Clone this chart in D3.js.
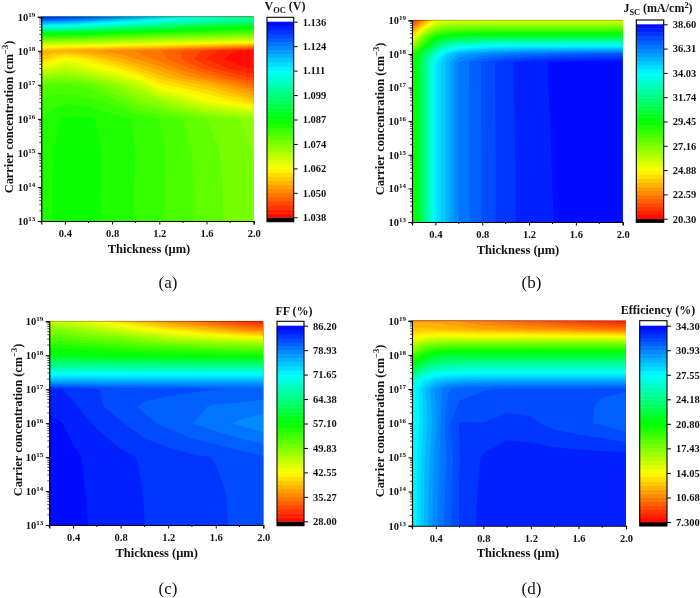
<!DOCTYPE html>
<html><head><meta charset="utf-8">
<script src="https://cdn.jsdelivr.net/npm/d3@7"></script>
<style>
html,body{margin:0;padding:0;background:#fff}
svg{display:block;filter:blur(0.35px)}
text{font-family:"Liberation Serif",serif;font-weight:bold;fill:#111}
</style></head><body>
<svg id="c" width="700" height="598"></svg>
<script>
const thicknessUm=[0.2,0.3,0.4,0.5,0.6,0.8,1.0,1.2,1.4,1.6,1.8,2.0];
const carrierExp=[13,14,15,16,16.5,17,17.25,17.5,17.75,18,18.25,18.5,18.75,19];
const xTickLabels=["0.4","0.8","1.2","1.6","2.0"];
const yTickExps=[13,14,15,16,17,18,19];

const vocTicks=["1.038","1.050","1.062","1.074","1.087","1.099","1.111","1.124","1.136"];
const jscTicks=["20.30","22.59","24.88","27.16","29.45","31.74","34.03","36.31","38.60"];
const ffTicks=["28.00","35.27","42.55","49.83","57.10","64.38","71.65","78.93","86.20"];
const effTicks=["7.300","10.68","14.05","17.43","20.80","24.18","27.55","30.93","34.30"];

const vocRows=[
[1.0835,1.0851,1.0860,1.0862,1.0858,1.0842,1.0828,1.0812,1.0796,1.0780,1.0763,1.0750],
[1.0835,1.0851,1.0860,1.0862,1.0858,1.0843,1.0828,1.0813,1.0796,1.0779,1.0763,1.0750],
[1.0833,1.0850,1.0859,1.0862,1.0858,1.0843,1.0829,1.0814,1.0795,1.0777,1.0761,1.0747],
[1.0828,1.0845,1.0852,1.0855,1.0853,1.0840,1.0827,1.0808,1.0788,1.0768,1.0755,1.0735],
[1.0810,1.0820,1.0825,1.0823,1.0818,1.0800,1.0760,1.0730,1.0690,1.0645,1.0615,1.0585],
[1.0785,1.0790,1.0790,1.0785,1.0780,1.0740,1.0695,1.0615,1.0585,1.0560,1.0520,1.0480],
[1.0720,1.0730,1.0735,1.0725,1.0710,1.0675,1.0625,1.0570,1.0530,1.0495,1.0460,1.0430],
[1.0645,1.0670,1.0685,1.0670,1.0655,1.0615,1.0570,1.0530,1.0490,1.0450,1.0415,1.0395],
[1.0570,1.0605,1.0635,1.0620,1.0600,1.0560,1.0525,1.0495,1.0460,1.0420,1.0395,1.0382],
[1.0555,1.0550,1.0545,1.0540,1.0530,1.0515,1.0500,1.0485,1.0460,1.0435,1.0405,1.0390],
[1.0710,1.0712,1.0710,1.0705,1.0700,1.0690,1.0680,1.0670,1.0660,1.0650,1.0640,1.0630],
[1.0885,1.0885,1.0880,1.0875,1.0870,1.0850,1.0835,1.0820,1.0810,1.0800,1.0790,1.0780],
[1.1130,1.1125,1.1120,1.1110,1.1090,1.1060,1.1030,1.1000,1.0970,1.0950,1.0930,1.0910],
[1.1350,1.1340,1.1325,1.1310,1.1300,1.1260,1.1220,1.1180,1.1140,1.1105,1.1075,1.1050]];

const jscRows=[
[28.8,31.5,34.35,35.3,36.35,37.1,37.72,38.0,38.21,38.35,38.4,38.42],
[28.8,31.5,34.35,35.3,36.35,37.1,37.72,38.0,38.22,38.35,38.4,38.42],
[28.8,31.5,34.35,35.3,36.35,37.1,37.72,38.01,38.23,38.35,38.4,38.42],
[28.8,31.5,34.35,35.3,36.35,37.11,37.73,38.01,38.24,38.36,38.4,38.42],
[28.8,31.5,34.35,35.3,36.35,37.11,37.73,38.02,38.25,38.36,38.4,38.42],
[28.8,31.5,34.35,35.3,36.35,37.12,37.74,38.03,38.26,38.37,38.4,38.42],
[28.8,31.5,34.35,35.3,36.35,37.12,37.74,38.03,38.26,38.37,38.4,38.42],
[28.8,31.5,34.35,35.3,36.35,37.12,37.74,38.03,38.26,38.37,38.4,38.42],
[28.7,31.5,34.3,35.3,36.35,37.12,37.74,38.03,38.26,38.37,38.4,38.42],
[28.5,31.0,33.3,34.8,35.6,36.1,36.4,36.6,36.8,36.9,37.0,37.0],
[26.5,29.0,31.2,32.6,33.3,33.8,34.0,34.0,34.0,34.0,34.0,34.0],
[24.5,27.5,29.2,30.0,30.3,30.5,30.6,30.6,30.6,30.6,30.6,30.6],
[22.8,25.0,27.0,27.5,27.7,27.8,27.8,27.8,27.8,27.8,27.8,27.8],
[20.8,23.0,25.0,25.3,25.4,25.5,25.5,25.5,25.5,25.5,25.5,25.5]];

const ffRows=[
[85.8,85.6,85.4,85.06,84.8,84.3,83.78,83.5,83.1,82.8,82.35,81.9],
[85.7,85.5,85.3,84.99,84.7,84.2,83.75,83.4,83.0,82.75,82.3,81.9],
[85.6,85.4,85.2,84.9,84.6,84.1,83.6,83.2,82.8,82.5,82.0,81.5],
[85.4,85.05,84.6,84.0,83.6,82.7,81.7,81.0,80.16,79.4,78.7,78.0],
[84.6,84.2,83.95,83.5,82.8,81.9,81.1,80.7,80.4,80.0,79.85,79.6],
[83.8,83.8,83.4,83.0,82.6,82.3,82.0,81.8,81.6,81.4,81.2,81.0],
[76.0,76.0,76.0,76.0,76.0,76.0,76.0,76.0,76.0,76.0,76.0,76.0],
[70.0,70.0,70.0,70.0,70.0,70.0,70.0,70.0,70.0,70.0,70.0,70.0],
[64.0,64.0,64.0,64.0,63.8,63.6,63.5,63.4,63.3,63.2,63.1,63.0],
[58.0,58.0,58.0,57.8,57.6,57.4,57.2,57.0,56.8,56.5,56.2,56.0],
[55.5,55.5,55.0,55.0,54.5,54.0,53.0,52.5,52.0,51.5,51.0,50.5],
[52.5,52.5,52.0,51.5,51.0,50.0,48.5,47.0,46.0,45.0,44.0,43.5],
[49.5,49.5,49.0,48.0,47.0,45.5,43.5,41.5,40.0,38.5,36.5,35.0],
[46.0,45.5,45.0,44.0,43.0,40.5,38.5,36.5,34.8,33.0,31.0,29.5]];

const effRows=[
[27.4,29.2,30.8,31.8,32.65,33.4,33.55,33.6,33.6,33.6,33.6,33.6],
[27.4,29.2,30.7,31.7,32.65,33.35,33.55,33.6,33.6,33.6,33.6,33.6],
[27.3,29.1,30.6,31.6,32.6,33.25,33.5,33.5,33.5,33.45,33.45,33.45],
[27.0,28.8,30.2,31.9,32.65,32.62,32.85,32.75,32.4,32.2,31.95,31.6],
[27.0,28.9,30.4,31.6,32.15,32.35,32.45,32.4,32.3,32.15,32.0,31.8],
[27.0,29.0,30.5,31.4,31.85,32.0,32.1,32.1,32.1,32.1,32.1,32.1],
[25.8,28.0,29.0,29.4,29.6,29.8,29.8,29.8,29.8,29.8,29.8,29.8],
[23.2,25.5,26.7,27.0,27.1,27.2,27.2,27.2,27.2,27.2,27.2,27.2],
[20.8,23.0,24.0,24.4,24.6,24.7,24.7,24.7,24.7,24.7,24.7,24.7],
[18.5,20.5,21.6,21.9,22.0,22.0,22.0,22.0,22.0,22.0,22.0,22.0],
[16.3,17.8,18.4,18.7,18.9,18.9,18.9,18.9,18.9,18.9,18.9,18.9],
[13.9,14.6,14.9,15.0,15.0,15.0,15.0,14.9,14.9,14.8,14.8,14.7],
[12.4,12.5,12.4,12.2,12.1,11.8,11.6,11.3,11.1,10.8,10.5,10.3],
[11.6,11.6,11.6,11.4,11.1,10.5,10.0,9.6,9.2,8.8,8.4,8.0]];

const panels=[
 {rows:vocRows,ticks:vocTicks,min:1.038,max:1.136,cap:"(a)",capY:288,box:[41.3,253.7,16.7,221],bar:[267,293.7,17.3,221.7],tickY:[21.7,217.3],title:[{t:"V"},{t:"OC",sub:1},{t:" (V)"}],titleX:285,titleY:10,capX:168,ylx:9,xlx:149,ylc:117},
 {rows:jscRows,ticks:jscTicks,min:20.3,max:38.6,cap:"(b)",capY:288,box:[412,622.7,20.3,222],bar:[636.3,663.7,20,222.3],tickY:[24.3,218.7],title:[{t:"J"},{t:"SC",sub:1},{t:" (mA/cm"},{t:"2",sup:1},{t:")"}],titleX:658,titleY:12,capX:531.5,ylx:380,xlx:518,ylc:119},
 {rows:ffRows,ticks:ffTicks,min:28,max:86.2,cap:"(c)",capY:594,box:[49.3,263.3,321.3,525],bar:[277,304,321.3,525.7],tickY:[325.7,521.3],title:[{t:"FF (%)"}],titleX:294,titleY:315,capX:168,ylx:18,xlx:156.7,ylc:420},
 {rows:effRows,ticks:effTicks,min:7.3,max:34.3,cap:"(d)",capY:594,box:[412,626,320.7,525.7],bar:[639.7,667,320.7,526],tickY:[325.7,522],title:[{t:"Efficiency (%)"}],titleX:658,titleY:314,capX:531.5,ylx:380,xlx:518,ylc:421}
];

const LEVELS=48;
const svg=d3.select("#c");
const defs=svg.append("defs");
const nx=thicknessUm.length, ny=carrierExp.length;
const gridX=d3.scaleLinear().domain([0,...thicknessUm.map((_,i)=>i+.5),nx]).range([thicknessUm[0],...thicknessUm,thicknessUm[nx-1]]);
const gridY=d3.scaleLinear().domain([0,...carrierExp.map((_,i)=>i+.5),ny]).range([carrierExp[0],...carrierExp,carrierExp[ny-1]]);

panels.forEach((p,pi)=>{
  const [L,R,T,B]=p.box;
  const g=svg.append("g");
  const x=d3.scaleLinear().domain([0.2,2.0]).range([L,R]);
  const y=d3.scaleLog().domain([1e13,1e19]).range([B,T]);
  const cmap=d3.scaleLinear().domain([0,.25,.5,.75,1].map(t=>p.min+t*(p.max-p.min))).range(["#ff0000","#ffff00","#00ff00","#00ffff","#0000ff"]).clamp(true);
  const step=(p.max-p.min)/LEVELS;
  const thresholds=d3.range(LEVELS).map(k=>p.min+k*step);
  const bandColor=k=>cmap(p.min+(k+.5)*step);
  const cid="clip"+pi;
  defs.append("clipPath").attr("id",cid).append("rect").attr("x",L).attr("y",T).attr("width",R-L).attr("height",B-T);
  const proj=d3.geoTransform({point(a,b){this.stream.point(x(gridX(a)),y(Math.pow(10,gridY(b))));}});
  const path=d3.geoPath(proj);
  const cs=d3.contours().size([nx,ny]).thresholds(thresholds)(p.rows.flat());
  g.append("rect").attr("x",L).attr("y",T).attr("width",R-L).attr("height",B-T).attr("fill",bandColor(0));
  g.append("g").attr("clip-path",`url(#${cid})`).selectAll("path").data(cs).join("path")
    .attr("d",path).attr("fill",(d,i)=>bandColor(i));

  const xa=d3.axisBottom(x).tickValues(xTickLabels.map(Number)).tickSize(3.5).tickPadding(5).tickFormat(d3.format(".1f"));
  const xg=g.append("g").attr("transform",`translate(0,${B})`).call(xa);
  xg.select(".domain").attr("stroke","#000").attr("stroke-width",1.1);
  xg.selectAll("text").attr("font-size",10.5).attr("fill","#111");
  xg.append("g").selectAll("line").data([0.2,0.6,1.0,1.4,1.8]).join("line")
    .attr("x1",d=>x(d)).attr("x2",d=>x(d)).attr("y1",0).attr("y2",2).attr("stroke","#000");

  const ya=d3.axisLeft(y).tickValues(yTickExps.map(e=>Math.pow(10,e))).tickSize(3.5).tickPadding(3).tickFormat("");
  const yg=g.append("g").attr("transform",`translate(${L},0)`).call(ya);
  yg.select(".domain").attr("stroke","#000").attr("stroke-width",1.1);
  const minor=y.ticks(60).filter(v=>!yTickExps.includes(Math.round(Math.log10(v)*1000)/1000));
  yg.append("g").selectAll("line").data(minor).join("line").attr("x1",-2).attr("x2",0)
    .attr("y1",d=>y(d)).attr("y2",d=>y(d)).attr("stroke","#000").attr("stroke-width",.7);
  const lab=g.append("g").selectAll("text").data(yTickExps).join("text")
    .attr("x",L-6).attr("y",d=>y(Math.pow(10,d))+3.8).attr("text-anchor","end").attr("font-size",10.5);
  lab.append("tspan").text("10");
  lab.append("tspan").text(d=>d).attr("font-size",7).attr("dy",-4);

  g.append("line").attr("x1",L).attr("x2",R).attr("y1",T).attr("y2",T).attr("stroke","#000").attr("stroke-width",.5).attr("stroke-opacity",.6);

  g.append("text").attr("x",p.xlx).attr("y",B+31.5).attr("text-anchor","middle").attr("font-size",12.5).text("Thickness (μm)");
  const yl=g.append("text").attr("transform",`translate(${p.ylx+4},${p.ylc}) rotate(-90)`).attr("text-anchor","middle").attr("font-size",12.4);
  yl.append("tspan").text("Carrier concentration (cm");
  yl.append("tspan").text("−3").attr("font-size",8.4).attr("dy",-5);
  yl.append("tspan").text(")").attr("dy",5);

  g.append("text").attr("x",p.capX).attr("y",p.capY).attr("text-anchor","middle").attr("font-size",17).style("font-weight","normal").text(p.cap);

  const [bL,bR,bT,bB]=p.bar;
  const bY=d3.scaleLinear().domain([p.min,p.max]).range([p.tickY[1],p.tickY[0]]);
  g.append("rect").attr("x",bL).attr("width",bR-bL).attr("y",bT).attr("height",bB-bT).attr("fill","#fff");
  g.append("rect").attr("x",bL).attr("width",bR-bL).attr("y",p.tickY[1]).attr("height",bB-p.tickY[1]).attr("fill","#000");
  g.append("g").selectAll("rect").data(thresholds).join("rect").attr("x",bL).attr("width",bR-bL)
    .attr("y",d=>bY(d+step)).attr("height",d=>bY(d)-bY(d+step)+.4).attr("fill",(d,i)=>bandColor(i));
  g.append("rect").attr("x",bL).attr("width",bR-bL).attr("y",bT).attr("height",bB-bT).attr("fill","none").attr("stroke","#000").attr("stroke-width",1.1);
  const tickVals=p.ticks.map((_,i)=>p.min+i*(p.max-p.min)/8);
  const bAxis=d3.axisRight(bY).tickValues(tickVals).tickSize(4).tickPadding(5).tickFormat((d,i)=>p.ticks[i]);
  const bg=g.append("g").attr("transform",`translate(${bR},0)`).call(bAxis);
  bg.select(".domain").remove();
  bg.selectAll("text").attr("font-size",10.5).attr("fill","#111");

  const tt=g.append("text").attr("x",p.titleX).attr("y",p.titleY).attr("text-anchor","middle").attr("font-size",12);
  let pending=0;
  p.title.forEach(s=>{
    const sp=tt.append("tspan").text(s.t);
    let dy=pending; pending=0;
    if(s.sub){sp.attr("font-size",8.4);dy+=3;pending=-3;}
    if(s.sup){sp.attr("font-size",8.4);dy-=4;pending=4;}
    if(dy)sp.attr("dy",dy);
  });
});
</script>
</body></html>
